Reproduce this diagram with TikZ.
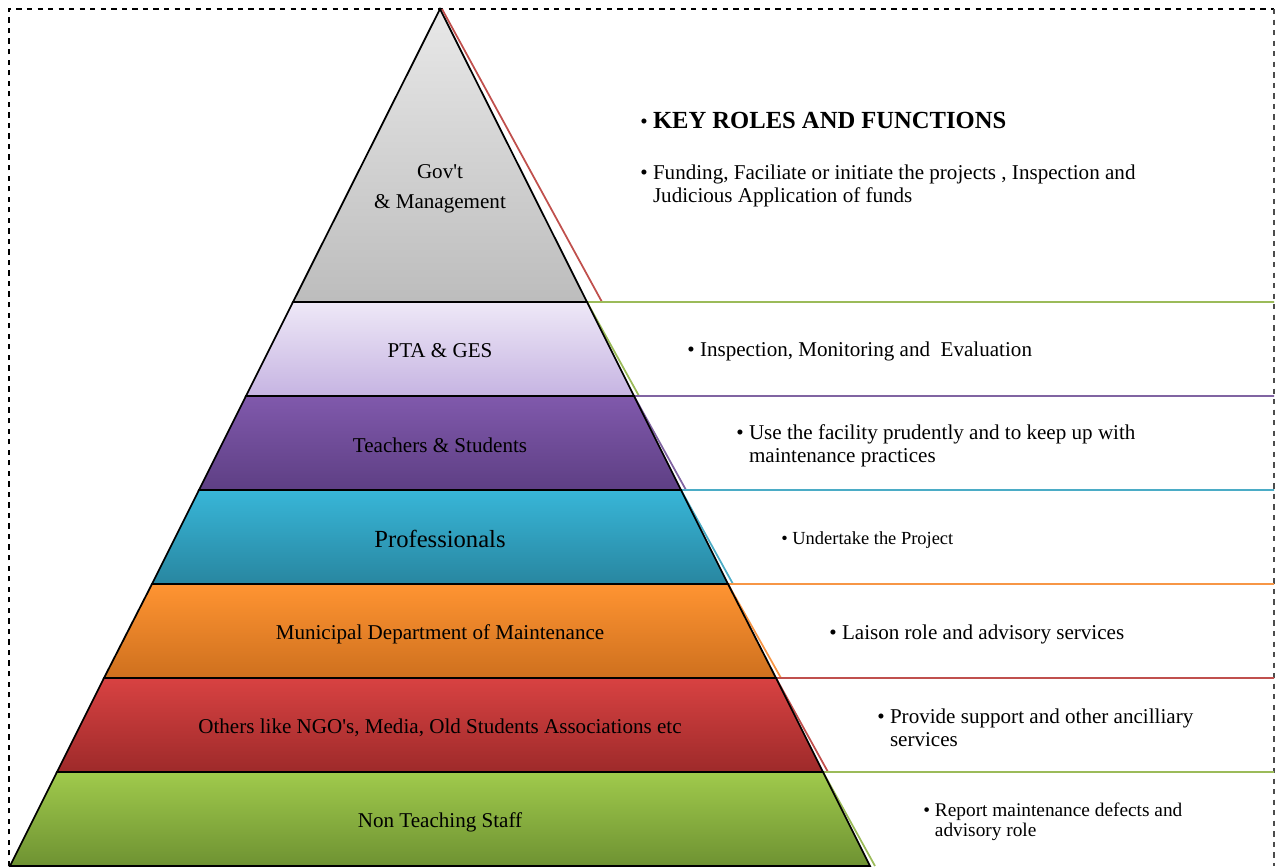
\documentclass[tikz,border=0pt]{standalone}
\usepackage{fontspec}
\setmainfont{Liberation Serif}[Ligatures=TeXOff]
\definecolor{rimred}{HTML}{C0504D}
\definecolor{rimgreen}{HTML}{9BBB59}
\definecolor{rimpurple}{HTML}{8064A2}
\definecolor{rimblue}{HTML}{4BACC6}
\definecolor{rimorange}{HTML}{F79646}
\begin{document}
\begin{tikzpicture}[x=0.02cm, y=-0.02cm,
    layer/.style={draw=black, line width=1pt},
    rim/.style={line width=1pt},
    tier/.style={font=\fontsize{12}{17}\selectfont, align=center},
    role/.style={font=\fontsize{12}{13}\selectfont, align=left, anchor=west, inner sep=0pt}]

    \useasboundingbox (0,0) rectangle (1275,866);

    % frame
    \draw[dashed, line width=0.8pt] (9,866) -- (9,9) -- (1274,9);
    \draw[dashed, line width=0.8pt, black!70] (1274,9) -- (1274,866);

    % rims on the right side of each layer
    \draw[rim, rimred] (442,9) -- (602,302);
    \draw[rim, rimgreen] (1274,302) -- (587,302) -- (639,396);
    \draw[rim, rimpurple] (1274,396) -- (634,396) -- (686,490);
    \draw[rim, rimblue] (1274,490) -- (681,490) -- (733,584);
    \draw[rim, rimorange] (1274,584) -- (728,584) -- (781,678);
    \draw[rim, rimred] (1274,678) -- (776,678) -- (828,772);
    \draw[rim, rimgreen] (1274,772) -- (823,772) -- (875,866);

    % layers of the pyramid
    \shade[layer, top color=black!9, bottom color=black!26] (440,9) -- (587,302) -- (293,302) -- cycle;
    \shade[layer, top color={rgb,255:red,238;green,232;blue,247}, bottom color={rgb,255:red,198;green,180;blue,226}] (293,302) -- (587,302) -- (634,396) -- (246,396) -- cycle;
    \shade[layer, top color={rgb,255:red,128;green,89;blue,172}, bottom color={rgb,255:red,94;green,63;blue,132}] (246,396) -- (634,396) -- (681,490) -- (199,490) -- cycle;
    \shade[layer, top color={rgb,255:red,56;green,182;blue,216}, bottom color={rgb,255:red,40;green,134;blue,160}] (199,490) -- (681,490) -- (728,584) -- (152,584) -- cycle;
    \shade[layer, top color={rgb,255:red,255;green,148;blue,50}, bottom color={rgb,255:red,206;green,112;blue,30}] (152,584) -- (728,584) -- (776,678) -- (104,678) -- cycle;
    \shade[layer, top color={rgb,255:red,216;green,66;blue,66}, bottom color={rgb,255:red,158;green,42;blue,42}] (104,678) -- (776,678) -- (823,772) -- (57,772) -- cycle;
    \shade[layer, top color={rgb,255:red,160;green,202;blue,76}, bottom color={rgb,255:red,110;green,146;blue,50}] (57,772) -- (823,772) -- (870,866) -- (10,866) -- cycle;

    % layer names
    \node[tier] (gov) at (440,189) {Gov't\\\& Management};
    \node[tier] (pta) at (440,351) {PTA \& GES};
    \node[tier] (teach) at (440,445) {Teachers \& Students};
    \node[tier, font=\fontsize{14}{17}\selectfont] (prof) at (440,539) {Professionals};
    \node[tier] (muni) at (440,634) {Municipal Department of Maintenance};
    \node[tier] (others) at (440,728) {Others like NGO's, Media, Old Students Associations etc};
    \node[tier] (staff) at (440,822) {Non Teaching Staff};

    % roles
    \node[role] (key) at (640,120) {\textbullet\ {\fontsize{14}{16}\selectfont\bfseries KEY ROLES AND FUNCTIONS}};
    \node[role] (fund) at (640,186) {\textbullet\ Funding, Faciliate or initiate the projects , Inspection and\\\phantom{\textbullet\ }Judicious Application of funds};
    \node[role] (insp) at (687,351) {\textbullet\ Inspection, Monitoring and\ \ Evaluation};
    \node[role] (use) at (736,446) {\textbullet\ Use the facility prudently and to keep up with\\\phantom{\textbullet\ }maintenance practices};
    \node[role, font=\fontsize{10.5}{12}\selectfont] (under) at (781,540) {\textbullet\ Undertake the Project};
    \node[role] (laison) at (829,634) {\textbullet\ Laison role and advisory services};
    \node[role] (provide) at (877,728) {\textbullet\ Provide support and other ancilliary\\\phantom{\textbullet\ }services};
    \node[role, font=\fontsize{11}{11.5}\selectfont] (report) at (923,822) {\textbullet\ Report maintenance defects and\\\phantom{\textbullet\ }advisory role};
\end{tikzpicture}
\end{document}
